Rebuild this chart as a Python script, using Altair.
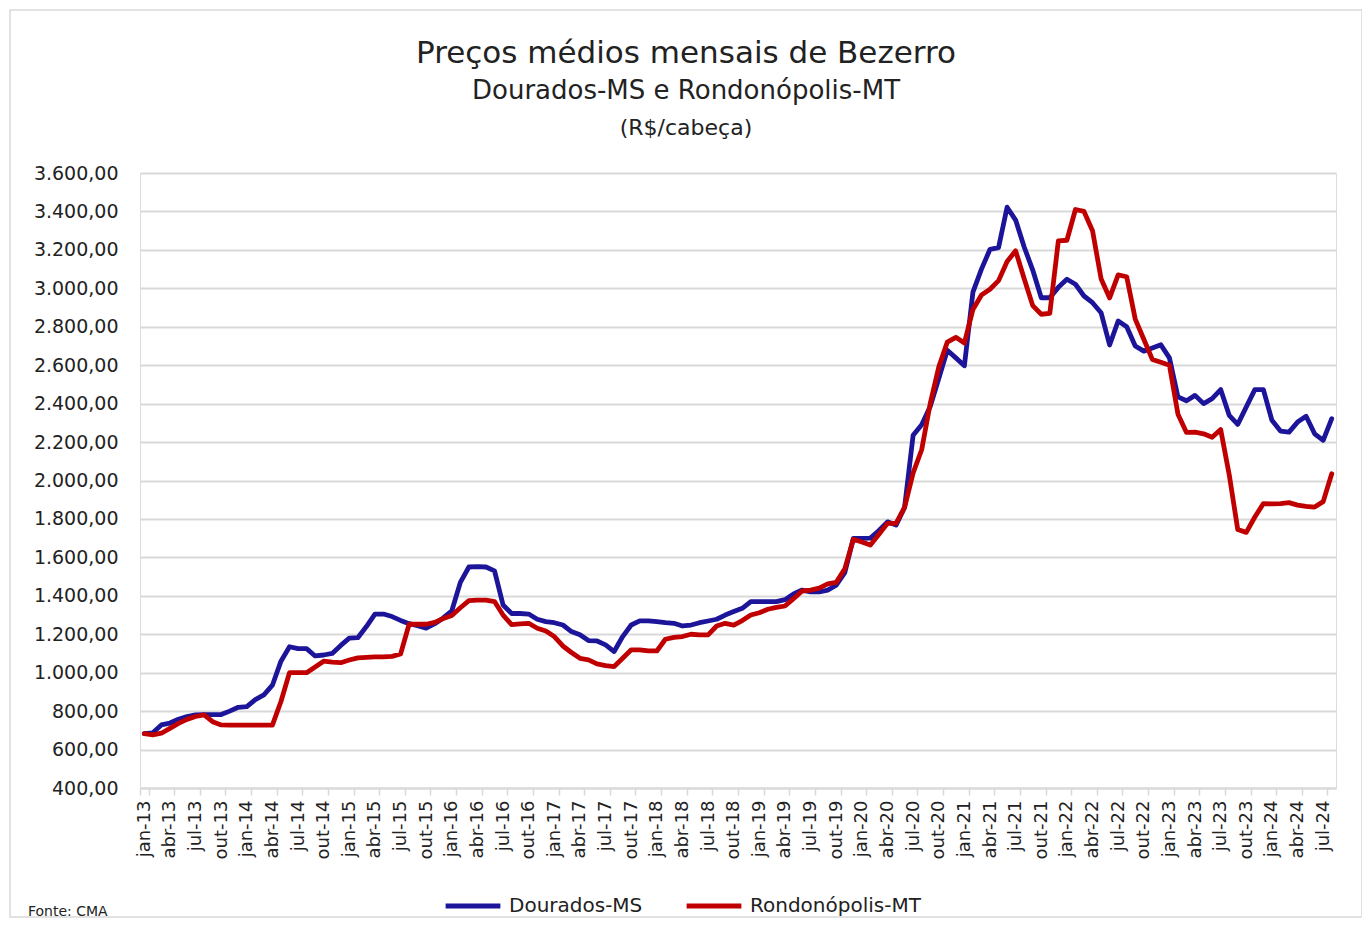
import altair as alt
import pandas as pd

meses = ["jan", "fev", "mar", "abr", "mai", "jun", "jul", "ago", "set", "out", "nov", "dez"]
rotulos = [f"{m}-{a}" for a in range(13, 25) for m in meses][:140]

dourados = [
    683, 687, 728, 738, 758, 772, 780, 782, 782, 782, 800, 820,
    823, 860, 885, 935, 1060, 1135, 1125, 1125, 1087, 1092, 1100, 1142,
    1180, 1182, 1240, 1305, 1305, 1292, 1272, 1255, 1245, 1232, 1255, 1285,
    1322, 1470, 1550, 1552, 1550, 1530, 1352, 1308, 1308, 1305, 1278, 1266,
    1260, 1248, 1214, 1197, 1167, 1165, 1145, 1110, 1188, 1248, 1270, 1270,
    1266, 1260, 1257, 1243, 1248, 1260, 1269, 1278, 1300, 1318, 1335, 1370,
    1370, 1370, 1370, 1380, 1410, 1430, 1420, 1420, 1430, 1455, 1520, 1699,
    1699, 1700, 1740, 1785, 1768, 1860, 2235, 2290, 2385, 2530, 2678, 2638,
    2597, 2980, 3100, 3203, 3212, 3422, 3355, 3215, 3095, 2951, 2951, 3005,
    3047, 3021, 2960, 2925, 2873, 2705, 2830, 2800, 2700, 2673, 2690, 2706,
    2638, 2435, 2415, 2443, 2400, 2426, 2473, 2339, 2292, 2383, 2473, 2473,
    2313, 2257, 2252, 2304, 2334, 2243, 2209, 2322,
]

rondonopolis = [
    683, 677, 685, 710, 736, 757, 772, 780, 745, 728, 727, 727,
    727, 727, 727, 727, 850, 1000, 1000, 1000, 1030, 1060, 1055, 1052,
    1066, 1077, 1080, 1082, 1082, 1085, 1097, 1252, 1252, 1252, 1262, 1282,
    1298, 1338, 1375, 1378, 1378, 1370, 1300, 1250, 1254, 1257, 1231, 1217,
    1188, 1139, 1105, 1075, 1067, 1046, 1037, 1032, 1075, 1119, 1119, 1113,
    1113, 1174, 1184, 1188, 1200, 1197, 1197, 1243, 1257, 1248, 1271, 1300,
    1312, 1330, 1340, 1347, 1385, 1425, 1430, 1440, 1462, 1470, 1540, 1694,
    1680, 1664, 1720, 1777, 1777, 1860, 2040, 2160, 2400, 2590, 2720, 2745,
    2715, 2890, 2965, 2995, 3040, 3140, 3195, 3050, 2910, 2865, 2870, 3247,
    3250, 3410, 3400, 3300, 3050, 2950, 3070, 3060, 2840, 2735, 2630, 2615,
    2600, 2345, 2250, 2252, 2243, 2225, 2265, 2030, 1745, 1730, 1810, 1880,
    1878, 1880, 1885, 1872, 1865, 1862, 1890, 2035,
]

series = ["Dourados-MS", "Rondonópolis-MT"]
cores = ["#1C1499", "#C00000"]
valores_y = list(range(400, 3601, 200))
rotulos_x = rotulos[::3]

df = pd.DataFrame({
    "mes": rotulos * 2,
    "serie": [series[0]] * len(dourados) + [series[1]] * len(rondonopolis),
    "valor": dourados + rondonopolis,
})

FONT = "DejaVu Sans"
W, H = 1196, 615

linhas = alt.Chart(df).mark_line(strokeWidth=4.8, strokeJoin="round", strokeCap="round").encode(
    x=alt.X(
        "mes:O",
        sort=rotulos,
        bandPosition=0.5,
        scale=alt.Scale(type="band", domain=rotulos, paddingInner=0, paddingOuter=0),
        axis=alt.Axis(
            title=None,
            values=rotulos_x,
            labelAngle=-90,
            labelAlign="right",
            labelBaseline="middle",
            labelFontSize=18,
            labelFont=FONT,
            labelColor="#222222",
            labelPadding=5,
            tickBand="extent",
            tickSize=7,
            tickColor="#d9d9d9",
            tickWidth=1.5,
            domainColor="#d9d9d9",
            domainWidth=2,
            grid=False,
        ),
    ),
    y=alt.Y(
        "valor:Q",
        scale=alt.Scale(domain=[400, 3600], nice=False, zero=False),
        axis=alt.Axis(
            title=None,
            values=valores_y,
            labelExpr="replace(replace(replace(format(datum.value, ',.2f'), ',', '#'), '.', ','), '#', '.')",
            labelFontSize=19,
            labelFont=FONT,
            labelColor="#222222",
            labelPadding=22,
            ticks=False,
            domain=False,
            grid=True,
            gridColor="#d9d9d9",
            gridWidth=2,
        ),
    ),
    color=alt.Color(
        "serie:N",
        sort=series,
        scale=alt.Scale(domain=series, range=cores),
        legend=alt.Legend(
            title=None,
            orient="none",
            legendX=303,
            legendY=703,
            direction="horizontal",
            symbolType="stroke",
            symbolStrokeWidth=4.8,
            symbolSize=3000,
            labelFontSize=20,
            labelFont=FONT,
            labelColor="#222222",
            labelLimit=400,
            columnPadding=34,
            labelOffset=6,
        ),
    ),
)

borda = alt.Chart(pd.DataFrame({"b": [0]})).mark_rect(
    filled=False, stroke="#d9d9d9", strokeWidth=1.5
).encode(
    x=alt.value(-130), x2=alt.value(1222), y=alt.value(-163), y2=alt.value(744)
)

unidade = alt.Chart(pd.DataFrame({"t": ["(R$/cabeça)"]})).mark_text(
    fontSize=22, font=FONT, color="#222222", align="center", baseline="alphabetic"
).encode(text="t:N", x=alt.value(546), y=alt.value(-38))

fonte = alt.Chart(pd.DataFrame({"t": ["Fonte: CMA"]})).mark_text(
    fontSize=14, font=FONT, color="#222222", align="left", baseline="alphabetic"
).encode(text="t:N", x=alt.value(-112), y=alt.value(743))

chart = alt.layer(borda, linhas, unidade, fonte).properties(
    width=W,
    height=H,
    autosize=alt.AutoSizeParams(type="none"),
    padding={"left": 132, "top": 165, "right": 26, "bottom": 130},
    title=alt.TitleParams(
        text="Preços médios mensais de Bezerro",
        subtitle="Dourados-MS e Rondonópolis-MT",
        font=FONT,
        fontSize=31,
        fontWeight="normal",
        color="#222222",
        subtitleFont=FONT,
        subtitleFontSize=26,
        subtitleColor="#222222",
        subtitlePadding=8,
        anchor="middle",
        frame="bounds",
        offset=-96,
    ),
).configure_view(stroke=None).configure(background="white")

chart.save("out.html", embed_options={"renderer": "svg", "actions": False})
